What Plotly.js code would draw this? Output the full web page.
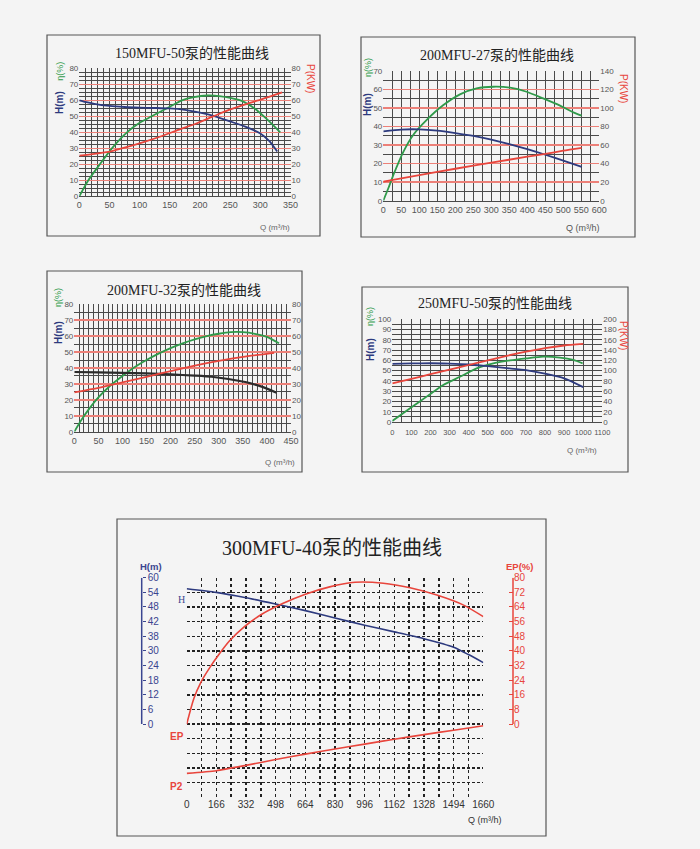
<!DOCTYPE html>
<html><head><meta charset="utf-8">
<script src="https://cdn.plot.ly/plotly-2.35.2.min.js"></script>
<style>html,body{margin:0;padding:0;background:#f4f4f4}#c{width:700px;height:849px}
.gridlayer path,.minor-gridlayer path{shape-rendering:crispEdges}</style>
</head><body><div id="c"></div>
<script>
// ---------- DATA ----------
// Panel 1: 150MFU-50
const p1_hQ = [0,10,25,50,75,100,125,150,175,200,225,250,275,300,315,328];
const p1_H  = [60,59,57.8,56.5,55.8,55.4,55.2,54.9,54,52.3,50,46.8,43.5,39.3,34.5,28];
const p1_eQ = [0,15,34,54,79,100,120,150,170,190,212,235,250,270,290,310,333];
const p1_E  = [0,10,20,30,40,46,50,56,60,62,63,62.5,61.5,59.5,55,48.5,40];
const p1_pQ = [0,25,54,81,109,137,164,192,220,248,275,303,336];
const p1_P  = [25.4,26.5,28.3,31,34.2,37.7,41.5,45.2,49.6,54,57.5,60.8,65];

// Panel 2: 200MFU-27
const p2_hQ = [0,50,100,150,200,250,300,350,400,450,500,551];
const p2_H  = [37.4,38.4,38.5,37.8,36.5,35,33,30.5,27.8,24.8,21.6,18.3];
const p2_eQ = [0,14,28,56,83,120,167,213,259,306,352,398,444,491,528,551];
const p2_E  = [0,6.7,13.9,26.5,35.5,43.5,51.6,57.4,60.6,61.5,61,58.8,55.2,51.3,47.7,45.9];
const p2_pQ = [0,100,200,300,400,450,500,551];
const p2_P  = [20.5,27.5,34.5,41,47.5,50.5,54,57];

// Panel 3: 200MFU-32
const p3_hQ = [0,50,100,150,200,250,285,320,355,389,420];
const p3_H  = [37.5,37.3,37,36.6,36,35.2,34.5,33.1,31.2,28.3,24.5];
const p3_eQ = [0,15,30,50,75,100,125,150,175,200,225,250,275,300,325,350,375,400,425];
const p3_E  = [0,7.5,14,21.5,29,35,40.5,45,49,52.5,55.5,58,60,61.5,62.5,62.5,61.5,59.5,55.5];
const p3_pQ = [0,50,100,150,200,250,300,350,415];
const p3_P  = [24.7,27.5,31,34.5,38,41.5,44.5,47,49.5];

// Panel 4: 250MFU-50
const p4_hQ = [0,100,200,300,400,500,600,700,800,900,1000];
const p4_H  = [56.5,57,57.2,56.8,56,54.5,52.5,50.5,47,42.5,34];
const p4_eQ = [0,93,180,267,354,442,529,616,704,791,878,948,997];
const p4_E  = [1,13.3,24.7,36,44,52.3,57.1,60,62,63.6,62.7,60.4,57.1];
const p4_pQ = [0,100,200,300,400,500,600,700,800,900,1000];
const p4_P  = [75,84,93,102,111,120,129,137,144,149,152];

// Panel 5: 300MFU-40
const p5_hQ = [0,166,332,498,664,830,996,1162,1328,1494,1577,1660];
const p5_H  = [55.5,54,51.8,49.2,46.5,43.5,40.5,37.8,35,31.5,28.5,25.2];
const p5_eQ = [0,40,80,130,180,240,320,420,540,664,800,942,1100,1250,1400,1550,1660];
const p5_EP = [0,14,23,31,38,45.5,53,60,66,71,75,77.5,77,74.5,70.5,65,58.7];
const p5_pQ = [0,166,332,498,664,830,996,1162,1328,1494,1660];
const p5_P2 = [-20.2,-19.1,-16.9,-14.5,-12.3,-10.2,-8.2,-6.2,-4.3,-2.5,-0.7];
const p5_Hticks = [0,6,12,18,24,30,36,42,48,54,60];
const p5_Htext  = ["0","6","12","18","24","30","38","42","48","54","60"];
const p5_EPticks = [0,8,16,24,32,40,48,56,64,72,80];
const p5_Qticks = [0,166,332,498,664,830,996,1162,1328,1494,1660];

const titles = ["150MFU-50泵的性能曲线","200MFU-27泵的性能曲线","200MFU-32泵的性能曲线","250MFU-50泵的性能曲线","300MFU-40泵的性能曲线"];

// ---------- STYLE / LAYOUT ----------
const W=700,H=849;
const fx=p=>p/W, fy=p=>1-p/H;
const GRID='#4a4a4a', RGRID='#ec8078';
const BLUE='#2d3a7e', GREEN='#2f9a4a', RED='#e8453c', BLACK='#2b2b2b', HBLUE='#3a4590';
const SANS='Liberation Sans, Arial, sans-serif';
const tf=(s,c)=>({family:SANS,size:s,color:c||'#555'});

function xax(l,r,range,dtick,minor,anchor,fs,so){
  return {domain:[fx(l),fx(r)],range,dtick,tick0:0,anchor,showgrid:true,gridcolor:GRID,gridwidth:1,
    minor:{dtick:minor,tick0:0,showgrid:true,gridcolor:GRID,gridwidth:1},
    zeroline:false,showline:true,linecolor:GRID,linewidth:1,ticks:'',tickangle:0,tickfont:tf(fs||9),ticklabelstandoff:so||0,fixedrange:true};
}
function yax(b,t,range,dtick,minor,anchor,red){
  return {domain:[fy(b),fy(t)],range,dtick,tick0:0,anchor,showgrid:true,gridcolor:red?RGRID:GRID,gridwidth:red?1.6:1,
    minor:{dtick:minor,tick0:0,showgrid:true,gridcolor:GRID,gridwidth:1},
    zeroline:false,showline:false,ticks:'',tickfont:tf(8),fixedrange:true};
}
function yr(over,anchor,range,dtick){
  return {overlaying:over,anchor,side:'right',range,dtick,tick0:0,showgrid:false,zeroline:false,showline:false,ticks:'',tickfont:tf(8),fixedrange:true};
}
function tr(x,y,xa,ya,color,w){
  return {x,y,xaxis:xa,yaxis:ya,type:'scatter',mode:'lines',line:{color,width:w||1.8,shape:'spline',smoothing:0.6},hoverinfo:'skip',showlegend:false};
}

const data=[
  tr(p1_pQ,p1_P,'x','y2',RED), tr(p1_eQ,p1_E,'x','y',GREEN), tr(p1_hQ,p1_H,'x','y',BLUE),
  tr(p2_pQ,p2_P,'x2','y4',RED), tr(p2_eQ,p2_E,'x2','y3',GREEN), tr(p2_hQ,p2_H,'x2','y3',BLUE),
  tr(p3_pQ,p3_P,'x3','y6',RED), tr(p3_eQ,p3_E,'x3','y5',GREEN), tr(p3_hQ,p3_H,'x3','y5',BLACK,2.2),
  tr(p4_pQ,p4_P,'x4','y8',RED), tr(p4_eQ,p4_E,'x4','y7',GREEN), tr(p4_hQ,p4_H,'x4','y7',BLUE),
  tr(p5_pQ,p5_P2,'x5','y9',RED,1.6), tr(p5_eQ,p5_EP,'x5','y11',RED,1.6), tr(p5_hQ,p5_H,'x5','y10',BLUE,1.6)
];

const layout={
  width:W,height:H,autosize:false,margin:{l:0,r:0,t:0,b:0},
  paper_bgcolor:'#f4f4f4',plot_bgcolor:'rgba(0,0,0,0)',showlegend:false,
  xaxis:xax(79.3,290.5,[0,350],50,10,'y'),
  yaxis:yax(196.3,68.3,[0,80],10,2.5,'x',true),
  yaxis2:yr('y','x',[0,80],10),
  xaxis2:xax(383.3,599.3,[0,600],50,25,'y3'),
  yaxis3:yax(200.7,71,[0,70],10,5,'x2',true),
  yaxis4:yr('y3','x2',[0,140],20),
  xaxis3:xax(74.3,291,[0,450],50,10,'y5'),
  yaxis5:yax(431.7,304.3,[0,80],10,5,'x3',true),
  yaxis6:yr('y5','x3',[0,80],10),
  xaxis4:xax(392.3,602.3,[0,1100],100,50,'y7',7.5,3),
  yaxis7:yax(422,319.3,[0,100],10,5,'x4',false),
  yaxis8:yr('y7','x4',[0,200],20),
  xaxis5:{domain:[fx(186.7),fx(483.3)],range:[0,1660],tickvals:p5_Qticks,anchor:'y9',showgrid:true,gridcolor:'#222',gridwidth:1.5,griddash:'dot',
    minor:{dtick:83,tick0:0,showgrid:true,gridcolor:'#222',gridwidth:1.5,griddash:'dot'},
    zeroline:false,showline:false,ticks:'',tickfont:tf(10,'#333'),fixedrange:true},
  yaxis9:{domain:[fy(797.3),fy(577.7)],range:[-30,60],dtick:6,tick0:0,anchor:'x5',showgrid:true,gridcolor:'#222',gridwidth:1.5,griddash:'3px,2px',
    showticklabels:false,zeroline:false,showline:false,ticks:'',fixedrange:true},
  yaxis10:{overlaying:'y9',range:[-30,60],anchor:'free',position:fx(141.7),side:'right',tickvals:p5_Hticks,ticktext:p5_Htext,
    ticks:'outside',ticklen:3,tickcolor:HBLUE,showline:false,
    showgrid:false,zeroline:false,tickfont:tf(10,HBLUE),fixedrange:true},
  yaxis11:{overlaying:'y9',range:[-40,80],anchor:'free',position:fx(513),side:'right',tickvals:p5_EPticks,
    ticks:'inside',ticklen:4,tickcolor:RED,showline:false,
    showgrid:false,zeroline:false,tickfont:tf(10,RED),fixedrange:true},
  shapes:[
    [47,35,320,236],[361,37,635,237],[47,271,302,472],[362,287,628,472],[117,519,546,836]
  ].map(b=>({type:'rect',xref:'paper',yref:'paper',x0:fx(b[0]),x1:fx(b[2]),y0:fy(b[3]),y1:fy(b[1]),line:{color:'#555',width:1.2},layer:'below'})),
  annotations:[]
};
// axis lines of the two scale bars of panel 5, spanning only their labelled range
layout.shapes.push({type:'line',xref:'paper',yref:'y10',x0:fx(141.7),x1:fx(141.7),y0:p5_Hticks[0],y1:p5_Hticks[p5_Hticks.length-1],line:{color:HBLUE,width:1.5}});
layout.shapes.push({type:'line',xref:'paper',yref:'y11',x0:fx(513),x1:fx(513),y0:p5_EPticks[0],y1:p5_EPticks[p5_EPticks.length-1],line:{color:RED,width:1.5}});

const A=(t,x,y,font,angle,xanchor)=>layout.annotations.push({text:t,x:fx(x),y:fy(y),xref:'paper',yref:'paper',showarrow:false,font,textangle:angle||0,xanchor:xanchor||'center',yanchor:'middle'});
const SERIF='Liberation Serif, DejaVu Serif, Noto Sans CJK SC, serif';
const titleFont=s=>({family:SERIF,size:s,color:'#222'});
A(titles[0],192.3,53.5,titleFont(14));
A(titles[1],496.7,55,titleFont(14));
A(titles[2],183.8,290,titleFont(14));
A(titles[3],495,303.3,titleFont(14));
A(titles[4],331.7,548,titleFont(20));

const hF={family:SANS,size:10,color:BLUE};
const eF={family:SANS,size:9,color:GREEN};
const pF={family:SANS,size:10,color:RED};
const qF={family:SANS,size:8,color:'#666'};
// panel 1
A('η(%)',60,71.7,eF,-90); A('<b>H(m)</b>',60,103,hF,-90); A('P(KW)',310,78,pF,90); A('Q (m³/h)',275,227.7,qF);
// panel 2
A('η(%)',368,68,eF,-90); A('<b>H(m)</b>',368,105,hF,-90); A('P(KW)',623,88,pF,90); A('Q (m³/h)',583,228,{family:SANS,size:9,color:'#555'});
// panel 3
A('η(%)',58,297,eF,-90); A('<b>H(m)</b>',58,332,hF,-90); A('Q (m³/h)',280,462,qF);
// panel 4
A('η(%)',370,317,eF,-90); A('<b>H(m)</b>',370,350,hF,-90); A('P(KW)',623,335,pF,90); A('Q (m³/h)',582,450,qF);
// panel 5
A('<b>H(m)</b>',151,566,{family:SANS,size:9.5,color:HBLUE});
A('<b>EP(%)</b>',519,566,{family:SANS,size:9.5,color:RED});
A('H',181.7,599,{family:SERIF,size:10,color:HBLUE});
A('<b>EP</b>',177,736,{family:SANS,size:10,color:RED});
A('<b>P2</b>',176,786,{family:SANS,size:10,color:RED});
A('Q (m³/h)',485,820,{family:SANS,size:9,color:'#333'});

Plotly.newPlot('c',data,layout,{staticPlot:true,displayModeBar:false});
</script></body></html>
